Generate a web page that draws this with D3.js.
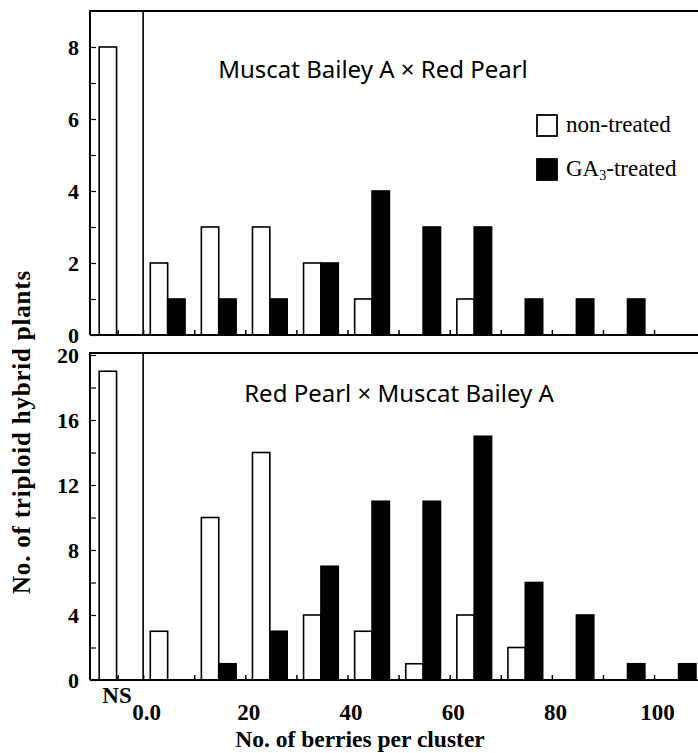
<!DOCTYPE html>
<html>
<head>
<meta charset="utf-8">
<script src="https://cdn.jsdelivr.net/npm/d3@7"></script>
<style>
  body { margin: 0; background: #fff; }
</style>
</head>
<body>
<div id="vis"></div>
<script>
// Berries per cluster histogram, two crosses
const bins = [0, 10, 20, 30, 40, 50, 60, 70, 80, 90, 100];

const mbaNS = 8;
const mbaNonTreated = [2, 3, 3, 2, 1, 0, 1, 0, 0, 0, 0];
const mbaTreated = [1, 1, 1, 2, 4, 3, 3, 1, 1, 1, 0];

const rpNS = 19;
const rpNonTreated = [3, 10, 14, 4, 3, 1, 4, 2, 0, 0, 0];
const rpTreated = [0, 1, 3, 7, 11, 11, 15, 6, 4, 1, 1];

const xTickLabels = [0, 20, 40, 60, 80, 100];
const topYTicks = [0, 2, 4, 6, 8];
const topYMinor = [0, 1, 2, 3, 4, 5, 6, 7, 8];
const bottomYTicks = [0, 4, 8, 12, 16, 20];
const bottomYMinor = [0, 2, 4, 6, 8, 10, 12, 14, 16, 18, 20];

const width = 698;
const height = 753;

const svg = d3.select("#vis")
  .append("svg")
  .attr("width", width)
  .attr("height", height);

const serif = "'Liberation Serif', 'Times New Roman', serif";
const sans = "'Noto Sans', 'Open Sans', sans-serif";

// shared x scale; NS sits in the slot left of 0
const xScale = d3.scaleLinear()
  .domain([-10.4, 108.6])
  .range([90, 698]);

function drawPanel(cfg) {
  const y = d3.scaleLinear()
    .domain(cfg.domain)
    .range([cfg.bottom, cfg.top]);

  const g = svg.append("g");

  // bars: white = non-treated, black = GA3-treated
  const rows = [{ bin: -10, value: cfg.ns, type: "white" }];
  bins.forEach((b, i) => {
    rows.push({ bin: b, value: cfg.nonTreated[i], type: "white" });
    rows.push({ bin: b, value: cfg.treated[i], type: "black" });
  });

  g.selectAll("rect.bar")
    .data(rows.filter(d => d.value > 0))
    .enter()
    .append("rect")
    .attr("class", "bar")
    .attr("x", d => xScale(d.bin + (d.type === "white" ? 1.4 : 4.8)))
    .attr("width", xScale(3.4) - xScale(0))
    .attr("y", d => y(d.value))
    .attr("height", d => y(0) - y(d.value))
    .attr("fill", d => d.type === "white" ? "#fff" : "#000")
    .attr("stroke", "#000")
    .attr("stroke-width", 1.6);

  // frame: top + left border
  g.append("path")
    .attr("d", `M${width},${cfg.frameTop}H${xScale.range()[0]}V${cfg.bottom}`)
    .attr("fill", "none")
    .attr("stroke", "#000")
    .attr("stroke-width", 2);

  // separator between NS and 0
  g.append("line")
    .attr("x1", xScale(0)).attr("x2", xScale(0))
    .attr("y1", cfg.frameTop).attr("y2", cfg.bottom)
    .attr("stroke", "#000")
    .attr("stroke-width", 1.6);

  // baseline with inward ticks every 10
  g.append("g")
    .attr("transform", `translate(0,${cfg.bottom})`)
    .call(d3.axisTop(xScale).tickValues(bins.concat([-5])).tickSize(5).tickFormat(""))
    .call(a => a.select(".domain").remove())
    .selectAll("line")
    .attr("stroke", "#000")
    .attr("stroke-width", 1.5);

  g.append("line")
    .attr("x1", xScale.range()[0]).attr("x2", width)
    .attr("y1", cfg.bottom).attr("y2", cfg.bottom)
    .attr("stroke", "#000")
    .attr("stroke-width", 2.2);

  // y inward ticks
  g.append("g")
    .attr("transform", `translate(${xScale.range()[0]},0)`)
    .call(d3.axisRight(y).tickValues(cfg.minor).tickSize(6).tickFormat(""))
    .call(a => a.select(".domain").remove())
    .selectAll("line")
    .attr("stroke", "#000")
    .attr("stroke-width", 1.2);

  // y tick labels
  g.append("g")
    .attr("transform", `translate(${xScale.range()[0]},0)`)
    .call(d3.axisLeft(y).tickValues(cfg.ticks).tickSize(0).tickPadding(11))
    .call(a => a.select(".domain").remove())
    .selectAll("text")
    .attr("fill", "#000")
    .style("font-family", serif)
    .style("font-weight", "bold")
    .style("font-size", "22px");

  // panel title
  g.append("text")
    .attr("x", cfg.titleX)
    .attr("y", cfg.titleY)
    .attr("text-anchor", "middle")
    .attr("fill", "#000")
    .style("font-family", sans)
    .style("font-size", "24px")
    .text(cfg.title);

  return y;
}

drawPanel({
  title: "Muscat Bailey A \u00d7 Red Pearl",
  titleX: 373, titleY: 78,
  ns: mbaNS, nonTreated: mbaNonTreated, treated: mbaTreated,
  domain: [0, 9], top: 11, bottom: 335, frameTop: 11,
  ticks: topYTicks, minor: topYMinor
});

drawPanel({
  title: "Red Pearl \u00d7 Muscat Bailey A",
  titleX: 399, titleY: 402,
  ns: rpNS, nonTreated: rpNonTreated, treated: rpTreated,
  domain: [0, 20], top: 355, bottom: 680, frameTop: 353,
  ticks: bottomYTicks, minor: bottomYMinor
});

// x tick labels (bottom panel)
svg.append("g")
  .attr("transform", "translate(3,680)")
  .call(d3.axisBottom(xScale).tickValues(xTickLabels).tickSize(0).tickPadding(24)
    .tickFormat(d => d === 0 ? "0.0" : d))
  .call(a => a.select(".domain").remove())
  .selectAll("text")
  .attr("fill", "#000")
  .style("font-family", serif)
  .style("font-weight", "bold")
  .style("font-size", "23px");

svg.append("text")
  .attr("x", 117)
  .attr("y", 703)
  .attr("text-anchor", "middle")
  .attr("fill", "#000")
  .style("font-family", serif)
  .style("font-weight", "bold")
  .style("font-size", "23px")
  .text("NS");

// axis titles
svg.append("text")
  .attr("x", 360)
  .attr("y", 747)
  .attr("text-anchor", "middle")
  .attr("fill", "#000")
  .style("font-family", serif)
  .style("font-weight", "bold")
  .style("font-size", "23.5px")
  .text("No. of berries per cluster");

svg.append("text")
  .attr("transform", "translate(30,432) rotate(-90)")
  .attr("text-anchor", "middle")
  .attr("fill", "#000")
  .style("font-family", serif)
  .style("font-weight", "bold")
  .style("font-size", "25px")
  .style("letter-spacing", "0.8px")
  .text("No. of triploid hybrid plants");

// legend
const legendX = 537;
const legendItems = [
  { fill: "#fff", y: 115, label: "non-treated" },
  { fill: "#000", y: 159, label: "GA" }
];

legendItems.forEach((d, i) => {
  svg.append("rect")
    .attr("x", legendX)
    .attr("y", d.y)
    .attr("width", 20)
    .attr("height", 21)
    .attr("fill", d.fill)
    .attr("stroke", "#000")
    .attr("stroke-width", 1.8);

  const t = svg.append("text")
    .attr("x", legendX + 29)
    .attr("y", d.y + 17)
    .attr("fill", "#000")
    .style("font-family", serif)
    .style("font-size", "23px")
    .text(d.label);

  if (i === 1) {
    t.append("tspan")
      .attr("dy", 4)
      .style("font-size", "14px")
      .text("3");
    t.append("tspan")
      .attr("dy", -4)
      .text("-treated");
  }
});
</script>
</body>
</html>
